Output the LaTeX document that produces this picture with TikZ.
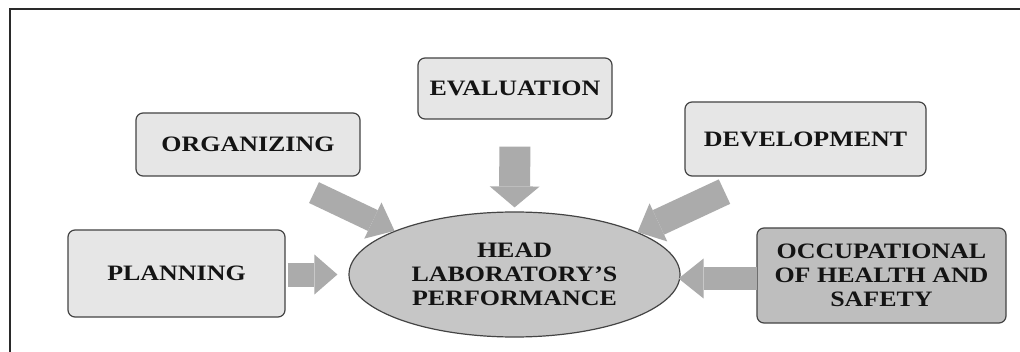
\documentclass[tikz,border=0pt]{standalone}
\usepackage{fontspec}
\setmainfont{Liberation Serif}[FakeStretch=1.18]
\usetikzlibrary{arrows.meta,shapes.geometric,calc}
\definecolor{boxfill}{HTML}{E6E6E6}
\definecolor{occfill}{HTML}{BEBEBE}
\definecolor{ellfill}{HTML}{C6C6C6}
\definecolor{arrowc}{HTML}{ABABAB}
\definecolor{edgec}{HTML}{444444}
\definecolor{framec}{HTML}{2A2A2A}
\begin{document}
\begin{tikzpicture}[x=1pt,y=1pt,
  lbl/.style={font=\bfseries\fontsize{22}{24}\selectfont, text=black!92, align=center, inner sep=0pt},
  box/.style={lbl, draw=edgec, line width=1.2pt, rounded corners=7pt, fill=boxfill},
  centre/.style={lbl, ellipse, draw=edgec, line width=1.2pt, fill=ellfill},
  barrow/.style n args={3}{draw=arrowc, line width=#1, -{Triangle[length=#2,width=#3,line width=0pt]}}
]
\useasboundingbox (0,0) rectangle (1020,351);
\fill[white] (0,0) rectangle (1020,351);
\draw[framec, line width=1.3pt] (10,-5) -- (10,342) -- (1030,342);

\node[box, minimum width=217, minimum height=87] (plan) at (176.5,77.5) {PLANNING};
\node[box, minimum width=224, minimum height=63] (org) at (248,206.5) {ORGANIZING};
\node[box, minimum width=194, minimum height=61] (eval) at (515,262.5) {EVALUATION};
\node[box, minimum width=241, minimum height=74] (dev) at (805.5,212) {DEVELOPMENT};
\node[box, fill=occfill, minimum width=249, minimum height=95] (occ) at (881.5,75.5) {OCCUPATIONAL\\OF HEALTH AND\\SAFETY};
\node[centre, minimum width=331, minimum height=125] (ell) at (514.5,76.5) {HEAD\\LABORATORY'S\\PERFORMANCE};

\coordinate (orgtail) at ($(org.south)+(66,-16)$);
\coordinate (devtail) at ($(dev.south)+(-81,-15)$);
\coordinate (occtail) at ($(occ.west)+(1,-3)$);
\coordinate (occtip) at (occtail -| ell.east);

\draw[barrow={24pt}{23pt}{40pt}, shorten <=2pt, shorten >=11pt] (plan.east |- ell.west) -- (ell.west);
\draw[barrow={23pt}{24pt}{40pt}] (orgtail) -- (ell.160);
\draw[barrow={31pt}{21pt}{50pt}, shorten <=27pt, shorten >=4pt] (eval.south) -- (ell.north);
\draw[barrow={27pt}{23pt}{42pt}] (devtail) -- (ell.19);
\draw[barrow={23pt}{25pt}{40pt}, shorten >=-2pt] (occtail) -- (occtip);
\end{tikzpicture}
\end{document}
